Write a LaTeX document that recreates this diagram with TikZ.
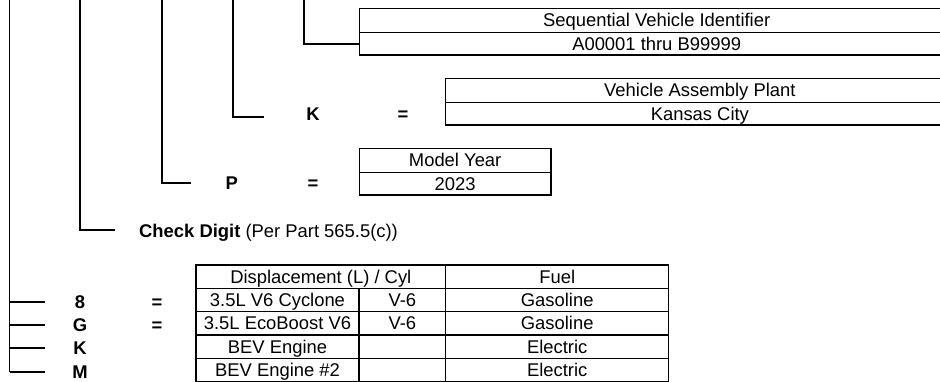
\documentclass[tikz,border=0pt]{standalone}
\usepackage{fontspec}
\setmainfont{Liberation Sans}

\begin{document}
\begin{tikzpicture}[x=1pt, y=-1pt, font=\fontsize{18.4}{22}\selectfont,
    brk/.style={line width=1.8pt},
    cell/.style 2 args={draw, line width=1.2pt, inner sep=0pt, minimum width=#1pt, minimum height=#2pt, text height=13.2pt, text depth=0pt},
    code/.style={font=\fontsize{18.4}{22}\selectfont\bfseries, inner sep=0pt, text height=13.2pt, text depth=0pt},
    txt/.style={inner sep=0pt, text height=13.2pt, text depth=0pt}]

    \useasboundingbox (0,0) rectangle (940,381);

    % ==========================================
    % 1. Sequential Vehicle Identifier
    % ==========================================
    \node[cell={594.7}{24}] (seqhead) at (656.65,20.3) {Sequential Vehicle Identifier};
    \node[cell={594.7}{22.7}] (seqval) at (656.65,43.65) {A00001 thru B99999};
    \coordinate (t5) at (304,0);
    \draw[brk] (t5) |- (seqval.west);

    % ==========================================
    % 2. Vehicle Assembly Plant
    % ==========================================
    \node[cell={508.3}{24}] (planthead) at (699.85,90.3) {Vehicle Assembly Plant};
    \node[cell={508.3}{22.7}] (plantval) at (699.85,113.65) {Kansas City};
    \node[code] (plantK) at (313,113.7) {K};
    \node[code] (plantEq) at (403,113.7) {=};
    \coordinate (t4) at (233,0);
    \coordinate (bK) at (264,116.7);
    \draw[brk] (t4) |- (bK);

    % ==========================================
    % 3. Model Year
    % ==========================================
    \node[cell={191.7}{24}] (yearhead) at (455.15,160.3) {Model Year};
    \node[cell={191.7}{22.7}] (yearval) at (455.15,183.65) {2023};
    \node[code] (yearP) at (231.7,183.3) {P};
    \node[code] (yearEq) at (313,183.3) {=};
    \coordinate (t3) at (162,0);
    \coordinate (bP) at (190.7,183.3);
    \draw[brk] (t3) |- (bP);

    % ==========================================
    % 4. Check Digit
    % ==========================================
    \node[txt, anchor=west] (check) at (139,230.8) {\textbf{Check Digit} (Per Part 565.5(c))};
    \coordinate (t2) at (80,0);
    \coordinate (bC) at (115,230);
    \draw[brk] (t2) |- (bC);

    % ==========================================
    % 5. Engine
    % ==========================================
    \node[cell={249.7}{23.33}] (hdisp) at (320.85,276.67) {Displacement (L) / Cyl};
    \node[cell={223}{23.33}] (hfuel) at (557.2,276.67) {Fuel};
    \coordinate (t1) at (9.5,0);
    \foreach \r/\y/\c/\eng/\cyl/\fuel in {a/300/8/3.5L V6 Cyclone/V-6/Gasoline,
                                         b/323.33/G/3.5L EcoBoost V6/V-6/Gasoline,
                                         c/346.67/K/BEV Engine//Electric,
                                         d/370/M/BEV Engine \#2//Electric} {
        \node[cell={163}{23.33}] (eng\r) at (277.5,\y) {\eng};
        \node[cell={86.7}{23.33}] (cyl\r) at (402.35,\y) {\cyl};
        \node[cell={223}{23.33}] (fuel\r) at (557.2,\y) {\fuel};
        \node[code] (code\r) at (80,\y+1.7) {\c};
        \coordinate (br\r) at (45,\y+1.7);
        \draw[brk] (t1 |- br\r) -- (br\r);
    }
    \node[code] (eqa) at (157,301.7) {=};
    \node[code] (eqb) at (157,325) {=};
    \draw[brk] (t1) -- (t1 |- brd);

\end{tikzpicture}
\end{document}
